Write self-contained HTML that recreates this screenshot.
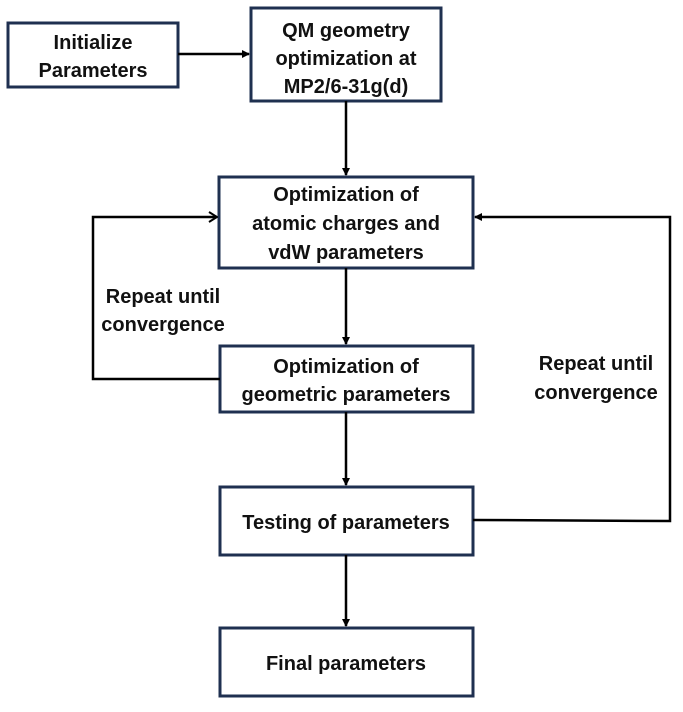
<!DOCTYPE html>
<html><head><meta charset="utf-8"><style>
body{margin:0;background:#fff;}
svg text{font-family:"Liberation Sans",sans-serif;font-weight:bold;font-size:20px;fill:#111;text-anchor:middle;}
</style></head><body>
<svg width="683" height="707" viewBox="0 0 683 707">
<defs><marker id="a" markerWidth="8" markerHeight="8" refX="7" refY="4" orient="auto" markerUnits="userSpaceOnUse"><path d="M0,0 L8,4 L0,8 z" fill="#000"/></marker>
<marker id="b" markerWidth="10" markerHeight="12" refX="9" refY="6" orient="auto" markerUnits="userSpaceOnUse"><path d="M1,1 L9,6 L1,11" fill="none" stroke="#000" stroke-width="2"/></marker></defs>
<g fill="none" stroke="#1f3050" stroke-width="3">
<rect x="8" y="23" width="170" height="64"/>
<rect x="251" y="8" width="190" height="93"/>
<rect x="219" y="177" width="254" height="91"/>
<rect x="220" y="346" width="253" height="66"/>
<rect x="220" y="487" width="253" height="68"/>
<rect x="220" y="628" width="253" height="68"/>
</g>
<g stroke="#000" stroke-width="2.5" fill="none">
<line x1="178" y1="54" x2="249" y2="54" marker-end="url(#a)"/>
<line x1="346" y1="101" x2="346" y2="175" marker-end="url(#a)"/>
<line x1="346" y1="268" x2="346" y2="344" marker-end="url(#a)"/>
<line x1="346" y1="412" x2="346" y2="485" marker-end="url(#a)"/>
<line x1="346" y1="555" x2="346" y2="626" marker-end="url(#a)"/>
<polyline points="220,379 93,379 93,217 217,217" marker-end="url(#b)"/>
<polyline points="473,520 670,521 670,217 475,217" marker-end="url(#a)"/>
</g>
<text x="93" y="49">Initialize</text><text x="93" y="77">Parameters</text>
<text x="346" y="37">QM geometry</text><text x="346" y="65">optimization at</text><text x="346" y="93">MP2/6-31g(d)</text>
<text x="346" y="201">Optimization of</text><text x="346" y="230">atomic charges and</text><text x="346" y="259">vdW parameters</text>
<text x="346" y="373">Optimization of</text><text x="346" y="401">geometric parameters</text>
<text x="346" y="529">Testing of parameters</text>
<text x="346" y="670">Final parameters</text>
<text x="163" y="303">Repeat until</text><text x="163" y="331">convergence</text>
<text x="596" y="370">Repeat until</text><text x="596" y="399">convergence</text>
</svg>
</body></html>
